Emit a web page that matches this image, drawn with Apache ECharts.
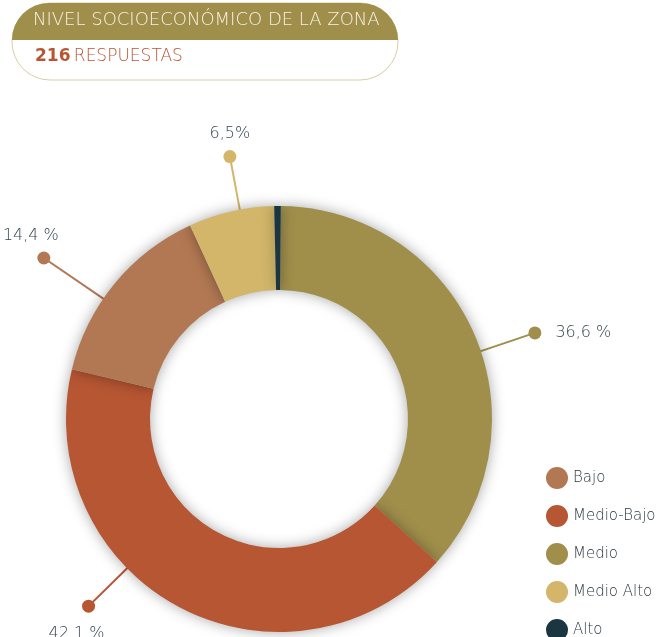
<!DOCTYPE html>
<html>
<head>
<meta charset="utf-8">
<script src="https://cdn.jsdelivr.net/npm/echarts@6/dist/echarts.min.js"></script>
<style>
  html, body { margin: 0; padding: 0; background: #fff; }
  #chart { width: 658px; height: 637px; }
</style>
</head>
<body>
<div id="chart"></div>
<script>
// datos
var names = ['Medio', 'Medio-Bajo', 'Bajo', 'Medio Alto', 'Alto'];
var values = [36.6, 42.1, 14.4, 6.5, 0.5];
var labelTexts = ['36,6 %', '42,1 %', '14,4 %', '6,5%', ''];
var legendOrder = ['Bajo', 'Medio-Bajo', 'Medio', 'Medio Alto', 'Alto'];
var colors = ['#a08f4b', '#b65633', '#b27853', '#d3b66a', '#1b3641'];

var FONT = 'DejaVu Sans';
var CX = 279, CY = 419, R0 = 129, R1 = 213;

// posicion de cada etiqueta: angulo, radio del punto, tipo
var labelPlace = [
  { angle: 18.6, dist: 270, type: 'right', s: 0 },
  { angle: 224.5, dist: 267, type: 'bottom', s: 24 },
  { angle: 145.6, dist: 285, type: 'top', s: 26 },
  { angle: 100.6, dist: 267, type: 'top', s: 0 },
  null
];

var myChart = echarts.init(document.getElementById('chart'));

var seriesData = [];
for (var i = 0; i < names.length; i++) {
  var p = labelPlace[i];
  var fmt = '';
  if (p) {
    if (p.type == 'right') fmt = '{d' + i + '|}{g|}{t|' + labelTexts[i] + '}';
    else if (p.type == 'top') fmt = '{t|' + labelTexts[i] + '}\n{s' + i + '|}{d' + i + '|}';
    else fmt = '{s' + i + '|}{d' + i + '|}\n{tb|' + labelTexts[i] + '}';
  }
  var rich = {
    t: { fontFamily: FONT, fontWeight: 200, fontSize: 16, color: '#34454f', lineHeight: 32 },
    tb: { fontFamily: FONT, fontWeight: 200, fontSize: 16, color: '#34454f', lineHeight: 42 },
    g: { width: 14 }
  };
  rich['d' + i] = { width: 13, height: 13, borderRadius: 6.5, backgroundColor: colors[i] };
  rich['s' + i] = { width: p ? p.s : 0 };
  seriesData.push({
    name: names[i],
    value: values[i],
    itemStyle: { color: colors[i] },
    label: { show: !!p, formatter: fmt, rich: rich },
    labelLine: { show: !!p, lineStyle: { color: colors[i], width: 2 } }
  });
}

var toXY = function(angle, r) {
  var a = angle * Math.PI / 180;
  return [CX + r * Math.cos(a), CY - r * Math.sin(a)];
};

var option = {
  animation: false,
  color: colors,
  graphic: [
    {
      type: 'rect',
      shape: { x: 12, y: 3, width: 386, height: 77, r: 38 },
      style: { fill: '#fff', stroke: '#d8cda6', lineWidth: 1 }
    },
    {
      type: 'rect',
      shape: { x: 12, y: 3, width: 386, height: 37, r: [37, 37, 0, 0] },
      style: { fill: '#a08f4b' }
    },
    {
      type: 'text',
      left: 33, top: 11,
      style: { text: 'NIVEL SOCIOECONÓMICO DE LA ZONA', fill: '#f6f2e6', font: '200 18px "' + FONT + '"' }
    },
    {
      type: 'text',
      left: 35, top: 48,
      style: {
        text: '{b|216} {r|RESPUESTAS}',
        rich: {
          b: { fontFamily: FONT, fontSize: 17, fontWeight: 'bold', fill: '#b65633' },
          r: { fontFamily: FONT, fontSize: 17, fontWeight: 200, fill: '#b65633' }
        }
      }
    }
  ],
  legend: {
    data: legendOrder,
    orient: 'vertical',
    left: 541,
    top: 462,
    height: 220,
    icon: 'circle',
    itemWidth: 22,
    itemHeight: 22,
    itemGap: 16,
    selectedMode: false,
    textStyle: { fontFamily: FONT, fontWeight: 200, fontSize: 15, color: '#2a3740' }
  },
  series: [
    {
      type: 'pie',
      center: [CX, CY],
      radius: [R0, R1],
      startAngle: 89.5,
      clockwise: true,
      avoidLabelOverlap: false,
      emphasis: { disabled: true },
      itemStyle: {
        shadowBlur: 14,
        shadowColor: 'rgba(0,0,0,0.35)'
      },
      label: { position: 'outside' },
      labelLine: { length: 30, length2: 0 },
      labelLayout: function(params) {
        var p = labelPlace[params.dataIndex];
        if (!p) return {};
        var start = toXY(p.angle, R1 - 4);
        var dot = toXY(p.angle, p.dist);
        var res = { labelLinePoints: [start, dot, dot] };
        if (p.type == 'right') {
          res.x = dot[0] - 6.5; res.y = dot[1];
          res.align = 'left'; res.verticalAlign = 'middle';
        } else if (p.type == 'top') {
          res.x = dot[0] - p.s / 2; res.y = dot[1] + 6.5;
          res.align = 'center'; res.verticalAlign = 'bottom';
        } else {
          res.x = dot[0] - p.s / 2; res.y = dot[1] - 6.5;
          res.align = 'center'; res.verticalAlign = 'top';
        }
        return res;
      },
      data: seriesData
    }
  ]
};

myChart.setOption(option);
</script>
</body>
</html>
